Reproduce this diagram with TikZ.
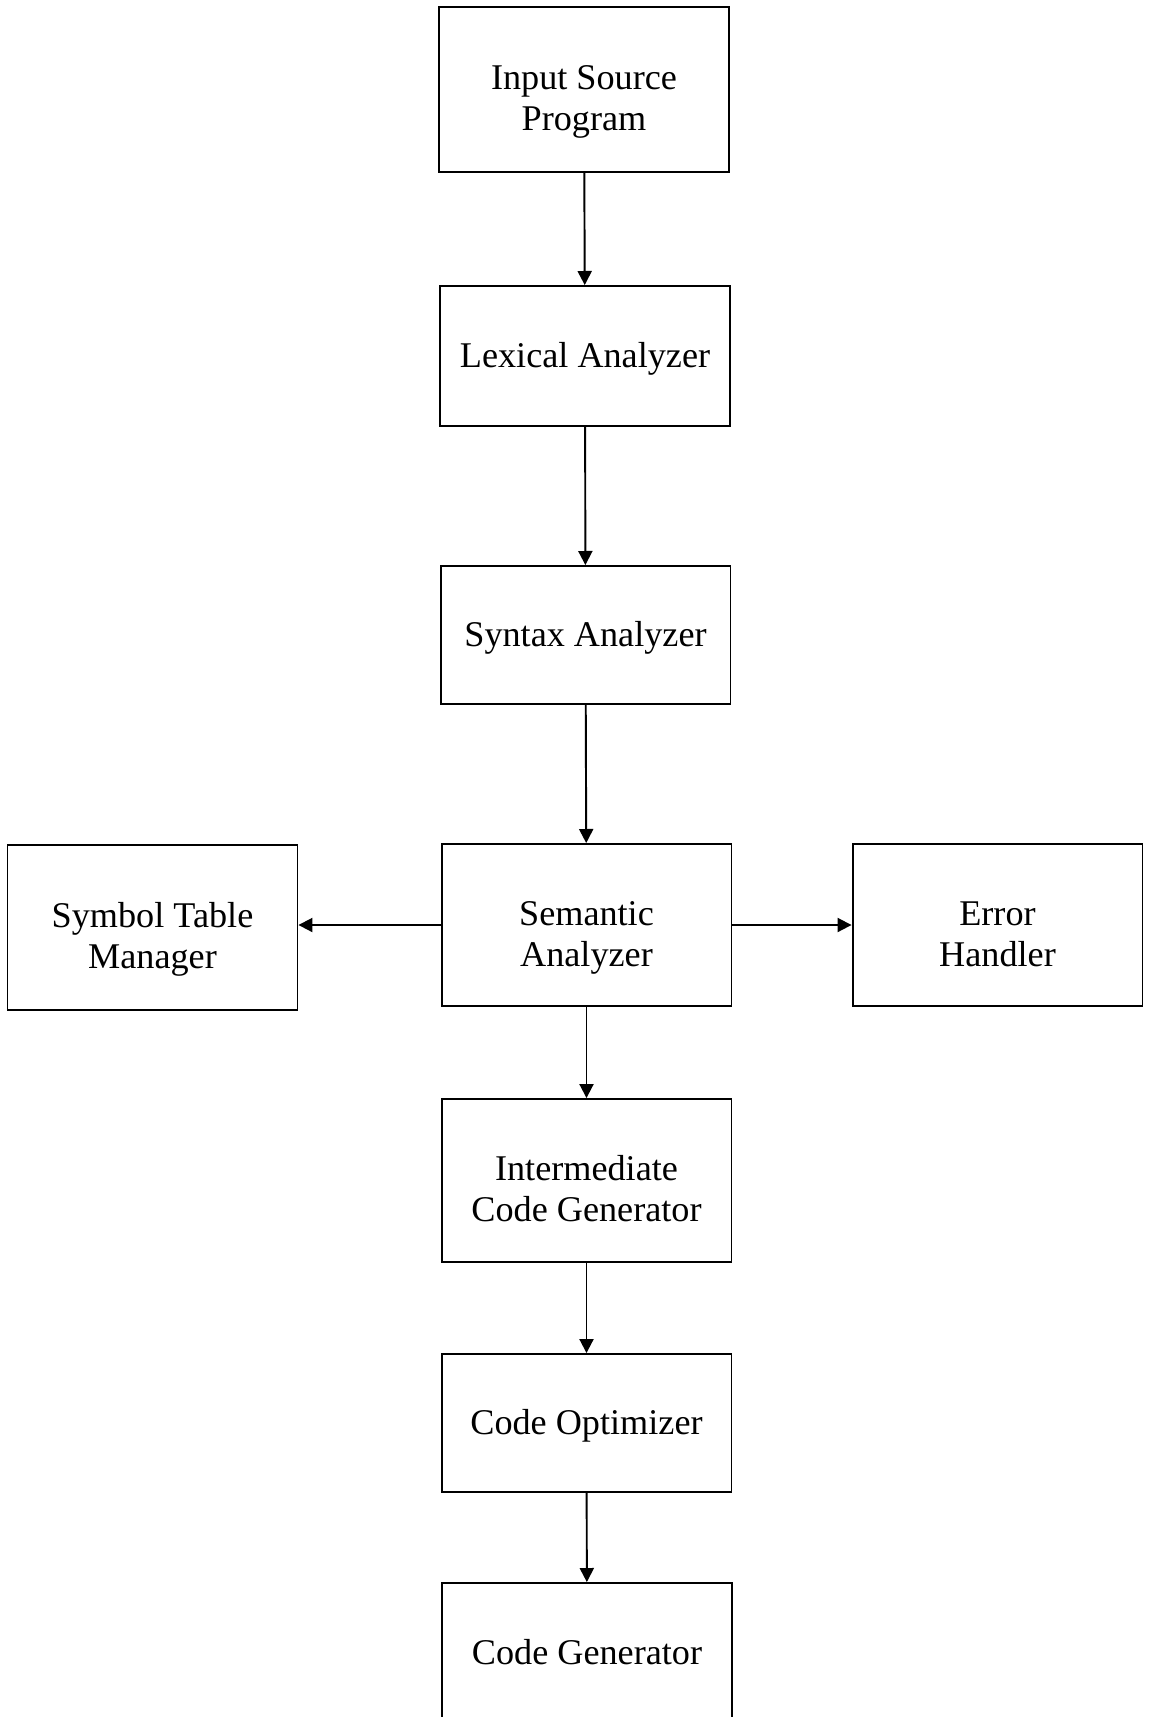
\documentclass[tikz,border=0pt]{standalone}
\usepackage{fontspec}
\setmainfont{Liberation Serif}
\usetikzlibrary{arrows.meta, positioning}

\begin{document}
\begin{tikzpicture}[x=0.02cm, y=-0.02cm, line width=1.1pt,
	phase/.style={draw, shape=rectangle, align=center, minimum width=5.8cm, inner sep=0pt,
		text height=20pt, text depth=6.8pt, font=\fontsize{20.6}{23.5}\selectfont},
	twoline/.style={phase, text height=51.4pt, text depth=4.4pt},
	flow/.style={-{Triangle[length=8pt, width=8pt]}}]
	\useasboundingbox (0, 0) rectangle (1152, 1717);
	% Boxes:
	\node[twoline, minimum height=3.3cm] (input) at (584, 89.5) {Input Source\\Program};
	\node[phase, minimum height=2.8cm] (lexical) at (585, 356) {Lexical Analyzer};
	\node[phase, minimum height=2.76cm] (syntax) at (585.5, 635) {Syntax Analyzer};
	\node[twoline, minimum height=3.24cm] (semantic) at (586.5, 925) {Semantic\\Analyzer};
	\node[twoline, minimum height=3.3cm] (symtab) at (152.5, 927.5) {Symbol Table\\Manager};
	\node[twoline, minimum height=3.24cm] (errhand) at (997.5, 925) {Error\\Handler};
	\node[twoline, minimum height=3.26cm] (intercode) at (586.5, 1180.5) {Intermediate\\Code Generator};
	\node[phase, minimum height=2.76cm] (optimizer) at (586.5, 1423) {Code Optimizer};
	\node[phase, minimum height=2.8cm] (codegen) at (587, 1653) {Code Generator};
	% Arrows:
	\draw[flow] (input) -- (lexical);
	\draw[flow] (lexical) -- (syntax);
	\draw[flow] (syntax) -- (semantic);
	\draw[flow] (semantic.west) -- (semantic.west -| symtab.east);
	\draw[flow] (semantic) -- (errhand);
	\draw[flow] (semantic) -- (intercode);
	\draw[flow] (intercode) -- (optimizer);
	\draw[flow] (optimizer) -- (codegen);
\end{tikzpicture}
\end{document}
